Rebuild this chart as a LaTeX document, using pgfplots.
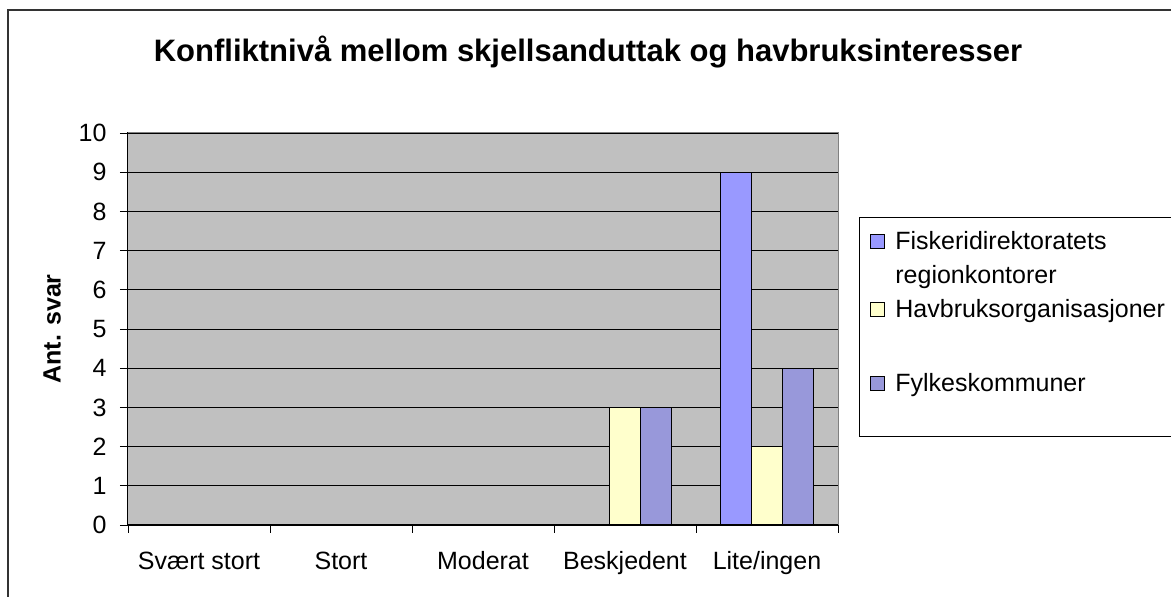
\documentclass[border=0pt]{standalone}
\usepackage{fontspec}
\setmainfont{Liberation Sans}
\usepackage{pgfplots}
\pgfplotsset{compat=1.18}
\definecolor{serA}{RGB}{153,153,255}
\definecolor{serB}{RGB}{255,255,204}
\definecolor{serC}{RGB}{152,152,218}
\definecolor{plotbg}{RGB}{192,192,192}
\definecolor{bordergray}{RGB}{128,128,128}
\begin{document}
\begin{tikzpicture}
\draw[line width=1.3pt, black!80] (8pt,-5pt) -- (8pt,587pt) -- (1180pt,587pt);
\node[font=\fontsize{31}{37}\selectfont\bfseries, anchor=base] at (588pt,535pt) {Konfliktnivå mellom skjellsanduttak og havbruksinteresser};
\begin{axis}[
  at={(128pt,72pt)}, anchor=south west, scale only axis,
  width=710pt, height=392pt,
  font=\fontsize{25}{30}\selectfont,
  /pgf/number format/assume math mode=true,
  axis background/.style={fill=plotbg},
  ybar=0pt, bar width=31pt,
  xmin=-0.5, xmax=4.5, ymin=0, ymax=10,
  ytick={0,1,...,10},
  xtick={0,1,2,3,4},
  xticklabels={Svært stort, Stort, Moderat, Beskjedent, Lite/ingen},
  xticklabel style={anchor=north, text height=19pt, text depth=6pt, yshift=-14pt},
  yticklabel style={xshift=-10pt},
  xtick style={draw=none},
  extra x ticks={-0.5,0.5,1.5,2.5,3.5,4.5},
  extra x tick labels={},
  extra x tick style={xtick style={draw=black, line width=0.8pt}},
  tick align=outside, major tick length=8pt,
  xtick pos=bottom, ytick pos=left,
  ytick style={black, line width=0.8pt},
  ymajorgrids, major grid style={black, line width=0.8pt},
  axis line style={black, line width=1pt},
  ylabel={\bfseries Ant. svar},
  ylabel style={at={(axis description cs:-0.107,0.5)}, anchor=center},
  legend style={at={(1.0296,0.786)}, anchor=north west, draw=black, line width=0.8pt,
    fill=white, font=\fontsize{25}{30}\selectfont, cells={anchor=base west},
    nodes={inner sep=0pt, text height=23pt, text depth=11pt},
    row sep=0pt, inner xsep=11pt, inner ysep=9pt, column sep=10pt},
  legend cell align=left,
  legend image code/.code={\draw[#1, draw=black, line width=1pt] (0pt,-5pt) rectangle (14pt,9pt);},
  after end axis/.code={\draw[bordergray, line width=1pt] (rel axis cs:0,1) -- (rel axis cs:1,1) -- (rel axis cs:1,0);},
]
\addplot[fill=serA, draw=black, line width=1.3pt] coordinates {(4,9)};
\addlegendentry{Fiskeridirektoratets}
\addlegendimage{empty legend}
\addlegendentry{regionkontorer}
\addplot[fill=serB, draw=black, line width=1.3pt] coordinates {(3,3) (4,2)};
\addlegendentry[text width=285pt]{Havbruksorganisasjoner}
\addlegendimage{empty legend}
\addlegendentry[text height=0pt, text depth=40pt]{\mbox{}}
\addplot[fill=serC, draw=black, line width=1.3pt] coordinates {(3,3) (4,4)};
\addlegendentry{Fylkeskommuner}
\addlegendimage{empty legend}
\addlegendentry[text height=0pt, text depth=25pt]{\mbox{}}
\end{axis}
\pgfresetboundingbox
\path[use as bounding box] (0pt,0pt) rectangle (1171pt,597pt);
\end{tikzpicture}
\end{document}
